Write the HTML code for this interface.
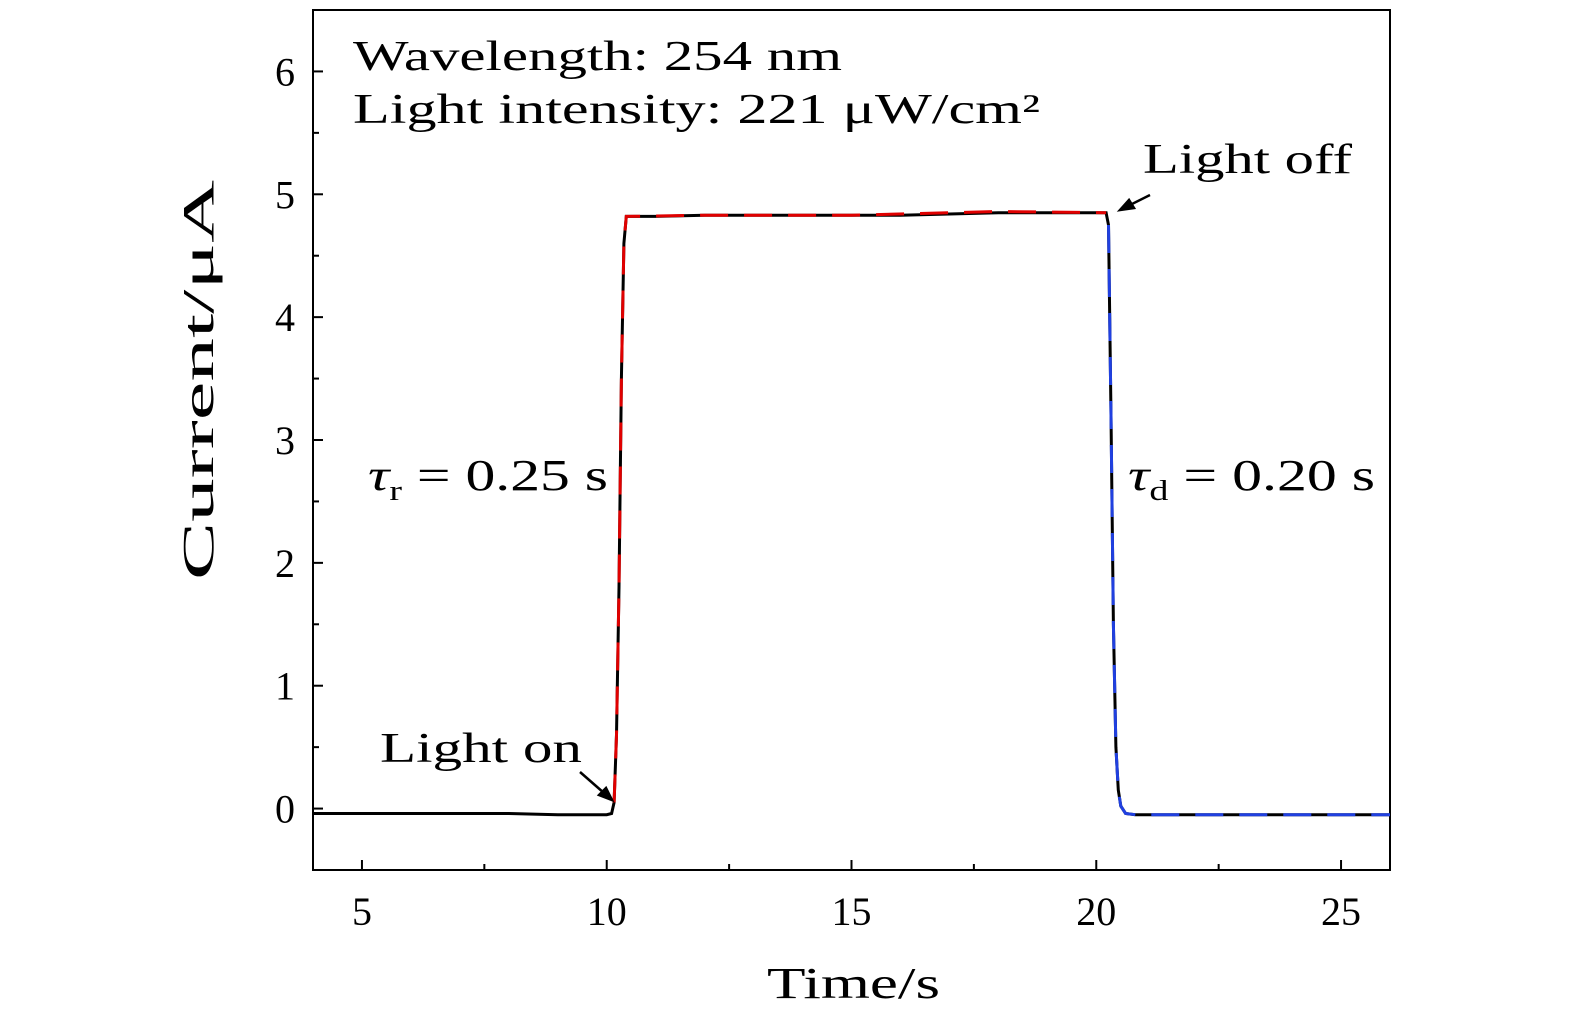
<!DOCTYPE html>
<html><head><meta charset="utf-8"><style>
html,body{margin:0;background:#fff;overflow:hidden;}
svg{display:block;}
text{font-family:"Liberation Serif","DejaVu Serif",serif;fill:#000;}
</style></head><body>
<svg id="c" width="1575" height="1024" viewBox="0 0 1575 1024"></svg>
<script>
const times=[4,6,8,9,10,10.1,10.15,10.2,10.25,10.3,10.35,10.4,11,12,14,16,18,19,20,20.2,20.25,20.3,20.35,20.4,20.45,20.5,20.6,20.8,21,23,26];
const current=[-0.04,-0.04,-0.04,-0.05,-0.05,-0.04,0.05,0.6,1.8,3.5,4.6,4.82,4.82,4.83,4.83,4.83,4.85,4.85,4.85,4.85,4.75,3.2,1.5,0.5,0.15,0.02,-0.04,-0.05,-0.05,-0.05,-0.05];
const riseFitT=[10.15,10.2,10.25,10.3,10.35,10.4,12,15,18,20.2];
const riseFitI=[0.05,0.6,1.8,3.5,4.6,4.82,4.83,4.83,4.86,4.85];
const decayFitT=[20.25,20.3,20.35,20.4,20.45,20.5,20.6,20.8,21,23,26];
const decayFitI=[4.75,3.2,1.5,0.5,0.15,0.02,-0.04,-0.05,-0.05,-0.05,-0.05];
const xTicks=[5,10,15,20,25];
const yTicks=[0,1,2,3,4,5,6];
const L=313,R=1390,T=10,B=870,X0=4,X1=26,Y0=-0.5,Y1=6.5;
const sx=v=>L+(v-X0)/(X1-X0)*(R-L), sy=v=>B-(v-Y0)/(Y1-Y0)*(B-T);
const svg=document.getElementById('c');const NS='http://www.w3.org/2000/svg';
function mk(t,a,txt){const e=document.createElementNS(NS,t);for(const k in a)e.setAttribute(k,a[k]);if(txt!==undefined)e.textContent=txt;svg.appendChild(e);return e;}
function line(xs,ys,stroke,dash,w){const d=xs.map((x,i)=>(i?'L':'M')+sx(x).toFixed(1)+','+sy(ys[i]).toFixed(1)).join('');const p=mk('path',{d:d,fill:'none',stroke:stroke,'stroke-width':w});if(dash)p.setAttribute('stroke-dasharray',dash);return p;}
let f=mk('rect',{x:L,y:T,width:R-L,height:B-T,fill:'none',stroke:'#000','stroke-width':2});


for(let v=5;v<=25;v+=2.5){const maj=v%5===0;const t=mk('line',{x1:sx(v),x2:sx(v),y1:B,y2:B-(maj?10:6),stroke:'#000','stroke-width':2});}
for(let v=-0.5;v<=6.5;v+=0.5){const maj=Math.abs(v-Math.round(v))<1e-6;const t=mk('line',{x1:L,x2:L+(maj?10:6),y1:sy(v),y2:sy(v),stroke:'#000','stroke-width':2});}
xTicks.forEach(v=>{const t=mk('text',{x:sx(v),y:925,'font-size':40,'text-anchor':'middle'},v);});
yTicks.forEach(v=>{const t=mk('text',{x:295,y:sy(v)+14,'font-size':40,'text-anchor':'end'},v);});
let xt=mk('text',{x:767,y:998,'font-size':44,textLength:173,lengthAdjust:'spacingAndGlyphs'},'Time/s');
let yt=mk('text',{x:-580,y:213,'font-size':44,textLength:400,lengthAdjust:'spacingAndGlyphs',transform:'rotate(-90)'},'Current/μA');
let s=line(times,current,'#000',null,3);
let r=line(riseFitT,riseFitI,'#e00000','28 16',3);
let d=line(decayFitT,decayFitI,'#2040e0','28 16',3);
let a1=mk('text',{x:353,y:70,'font-size':42,textLength:489,lengthAdjust:'spacingAndGlyphs'},'Wavelength: 254 nm');
let a2=mk('text',{x:353,y:123,'font-size':42,textLength:687,lengthAdjust:'spacingAndGlyphs'},'Light intensity: 221 μW/cm²');
let a3=mk('text',{x:1143,y:173,'font-size':42,textLength:209,lengthAdjust:'spacingAndGlyphs'},'Light off');
let a4=mk('text',{x:380,y:762,'font-size':42,textLength:202,lengthAdjust:'spacingAndGlyphs'},'Light on');
let tr=mk('text',{x:368,y:490,'font-size':44,textLength:240,lengthAdjust:'spacingAndGlyphs'});tr.innerHTML='<tspan font-style="italic">τ</tspan><tspan font-size="28" dy="10">r</tspan><tspan dy="-10"> = 0.25 s</tspan>';
let td=mk('text',{x:1128,y:490,'font-size':44,textLength:247,lengthAdjust:'spacingAndGlyphs'});td.innerHTML='<tspan font-style="italic">τ</tspan><tspan font-size="28" dy="10">d</tspan><tspan dy="-10"> = 0.20 s</tspan>';
let ar1=mk('path',{d:'M1150,195 L1120,210 M1120,210 l14,-2 l-5,-8 z',stroke:'#000','stroke-width':2.5,fill:'#000'});
let ar2=mk('path',{d:'M580,772 L612,800 M612,800 l-6,-12 l-7,7 z',stroke:'#000','stroke-width':2.5,fill:'#000'});
</script>
</body></html>
